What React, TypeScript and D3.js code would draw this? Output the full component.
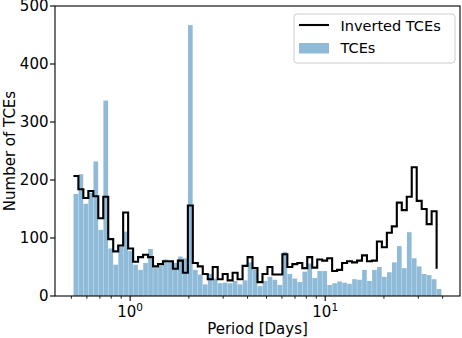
import React from "react";
import * as d3 from "d3";

// Histogram bins (log-spaced) from the min to the max period
const BIN_LO = 0.512;
const BIN_HI = 39.5;
const N_BINS = 74;

// TCE counts per bin (bars)
const tceCounts = [
  176, 210, 159, 178, 232, 114, 337, 82, 54, 85,
  111, 78, 54, 45, 57, 81, 48, 52, 63, 60,
  57, 68, 65, 467, 45, 37, 20, 38, 30, 22,
  23, 22, 26, 20, 27, 58, 45, 17, 26, 33,
  28, 19, 76, 38, 30, 24, 42, 56, 31, 43,
  43, 19, 22, 25, 23, 21, 29, 28, 45, 26,
  45, 50, 33, 41, 58, 86, 48, 110, 65, 51,
  38, 36, 29, 12,
];

// Inverted TCE counts per bin (step line)
const invertedCounts = [
  207, 184, 169, 181, 172, 134, 171, 98, 77, 87,
  144, 82, 59, 67, 71, 67, 51, 55, 60, 60,
  47, 61, 40, 156, 57, 51, 38, 29, 50, 29,
  38, 27, 40, 29, 52, 67, 48, 24, 38, 50,
  37, 37, 72, 50, 55, 57, 48, 67, 49, 63,
  61, 65, 43, 45, 57, 60, 58, 61, 70, 60,
  61, 94, 84, 109, 120, 161, 148, 171, 222, 164,
  150, 124, 146, 47,
];

const yTicks = [0, 100, 200, 300, 400, 500];
const xMajorTicks = [1, 10];
const xMajorExp = ["0", "1"];
const xMinorTicks = [0.5, 0.6, 0.7, 0.8, 0.9, 2, 3, 4, 5, 6, 7, 8, 9, 20, 30, 40];

const legendLabels = ["Inverted TCEs", "TCEs"];

const W = 462;
const H = 338;
const L = 55;
const R = 460;
const T = 6;
const B = 296;
const FONT = "DejaVu Sans, sans-serif";
const BAR_COLOR = "#1f77b4";

export default function App() {
  const edges = d3.range(N_BINS + 1).map(
    (i) => BIN_LO * Math.pow(BIN_HI / BIN_LO, i / N_BINS)
  );
  const lLo = Math.log10(BIN_LO);
  const lHi = Math.log10(BIN_HI);
  const m = 0.05 * (lHi - lLo);
  const x = d3
    .scaleLog()
    .domain([Math.pow(10, lLo - m), Math.pow(10, lHi + m)])
    .range([L, R]);
  const y = d3.scaleLinear().domain([0, 500]).range([B, T]);

  const stepPts: [number, number][] = invertedCounts.map((v, i) => [
    x(edges[i]),
    y(v),
  ]);
  const stepPath = d3.line().curve(d3.curveStepAfter)(stepPts) || "";

  return (
    <svg
      width={W}
      height={H}
      style={{ position: "absolute", left: 0, top: 0, display: "block", background: "#fff" }}
      fontFamily={FONT}
    >
      <rect x={0} y={0} width={W} height={H} fill="#fff" />
      {/* bars */}
      <g>
        {tceCounts.map((v, i) => {
          const x0 = x(edges[i]);
          const x1 = x(edges[i + 1]);
          return (
            <rect
              key={i}
              x={x0 + 0.15}
              y={y(v)}
              width={Math.max(0, x1 - x0 - 0.3)}
              height={y(0) - y(v)}
              fill={BAR_COLOR}
              fillOpacity={0.5}
            />
          );
        })}
      </g>
      {/* step line */}
      <path d={stepPath} fill="none" stroke="#000" strokeWidth={2.1} strokeLinejoin="miter" />
      {/* spines */}
      <rect x={L} y={T} width={R - L} height={B - T} fill="none" stroke="#000" strokeWidth={1.1} />
      {/* y ticks */}
      {yTicks.map((t) => (
        <g key={t}>
          <line x1={L - 5} x2={L} y1={y(t)} y2={y(t)} stroke="#000" strokeWidth={1.1} />
          <text x={48.5} y={y(t) + 5.4} textAnchor="end" fontSize={15}>
            {t}
          </text>
        </g>
      ))}
      {/* x minor ticks */}
      {xMinorTicks.map((t) => (
        <line key={t} x1={x(t)} x2={x(t)} y1={B} y2={B + 2.8} stroke="#000" strokeWidth={0.85} />
      ))}
      {/* x major ticks */}
      {xMajorTicks.map((t, i) => (
        <g key={t}>
          <line x1={x(t)} x2={x(t)} y1={B} y2={B + 5} stroke="#000" strokeWidth={1.1} />
          <text x={x(t)} y={316.7} textAnchor="middle" fontSize={15}>
            10
            <tspan fontSize={10.5} dy={-6}>
              {xMajorExp[i]}
            </tspan>
          </text>
        </g>
      ))}
      {/* axis labels */}
      <text x={(L + R) / 2} y={334} textAnchor="middle" fontSize={15}>
        Period [Days]
      </text>
      <text
        transform={`translate(14.5, ${(T + B) / 2}) rotate(-90)`}
        textAnchor="middle"
        fontSize={15}
      >
        Number of TCEs
      </text>
      {/* legend */}
      <g>
        <rect
          x={294}
          y={14}
          width={161}
          height={49}
          rx={3}
          fill="#fff"
          fillOpacity={0.8}
          stroke="#cccccc"
          strokeWidth={1}
        />
        <line x1={299} x2={329} y1={25} y2={25} stroke="#000" strokeWidth={2.1} />
        <text x={340.5} y={30.5} fontSize={14.5}>
          {legendLabels[0]}
        </text>
        <rect x={299} y={43} width={30} height={10.5} fill={BAR_COLOR} fillOpacity={0.5} />
        <text x={340.5} y={53} fontSize={14.5}>
          {legendLabels[1]}
        </text>
      </g>
    </svg>
  );
}
